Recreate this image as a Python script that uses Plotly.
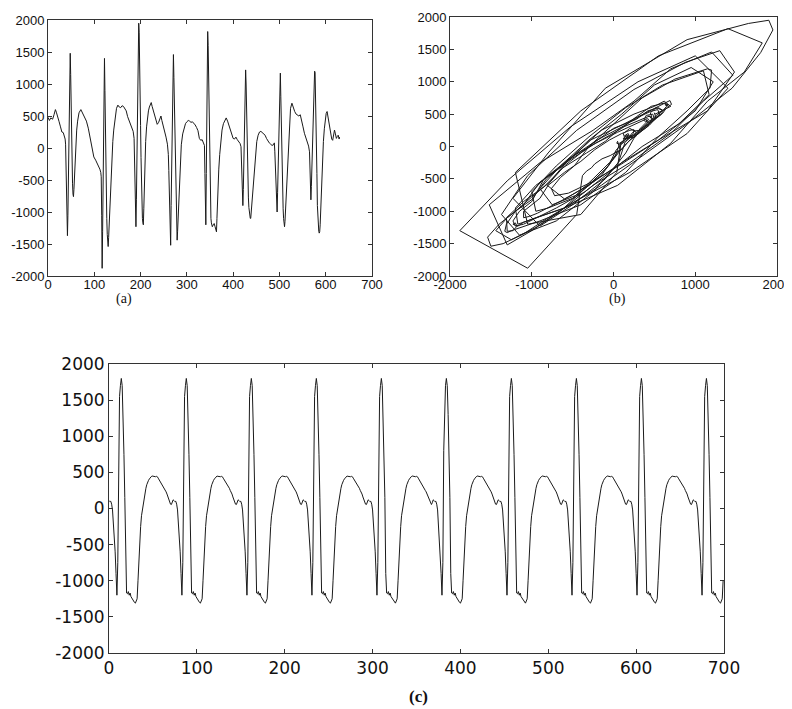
import numpy as np
import plotly.graph_objects as go

# ---------------- data ----------------
# (a) recorded signal: sample index and value (read from the picture;
#     every sample is listed through the sharp complexes)
a_t = [0, 3, 6, 10, 13, 16, 18, 21, 24, 27, 30, 33, 35, 37,
       38, 39, 40, 41, 42, 43, 44, 45, 46, 47, 48, 49, 50, 51, 52, 53, 54, 55, 56, 57, 58,
       60, 62, 64, 67, 71, 74, 77, 80, 83, 87, 90, 93, 96, 99, 103, 106, 109, 112, 114,
       115, 116, 117, 118, 119, 120, 121, 122, 123, 124, 125, 126, 127, 128, 129, 130, 131, 132, 133, 134,
       136, 138, 140, 142, 145, 148, 151, 154, 157, 160, 163, 166, 169, 172, 175, 178, 181, 184, 186, 187,
       188, 189, 190, 191, 192, 193, 194, 195, 196, 197, 198, 199, 200, 201, 202, 203, 204, 205, 206, 207, 208, 209,
       211, 213, 215, 217, 219, 221, 223, 225, 227, 230, 233, 236, 239, 242, 244, 246, 249, 252, 255, 258, 260,
       261, 262, 263, 264, 265, 266, 267, 268, 269, 270, 271, 272, 273, 274, 275, 276, 277, 278, 279, 280, 281, 282,
       284, 286, 288, 291, 294, 297, 300, 303, 306, 309, 312, 315, 318, 321, 324, 327, 330, 333, 336, 338,
       339, 340, 341, 342, 343, 344, 345, 346, 347, 348, 349, 350, 351, 352, 353, 355, 357, 359, 361, 363, 364,
       365, 366, 367, 369, 371, 373, 376, 379, 382, 385, 388, 391, 394, 397, 400, 403, 406, 409, 412, 415, 417,
       418, 419, 420, 421, 422, 423, 424, 425, 426, 427, 428, 429, 430, 431, 432, 433, 434, 435, 436, 437, 438,
       439, 440, 441, 443, 445, 447, 449, 451, 454, 457, 460, 463, 466, 469, 472, 475, 478, 481, 484, 487, 489, 490,
       491, 492, 493, 494, 495, 496, 497, 498, 499, 500, 501, 502, 503, 504, 505, 506, 507, 508, 509, 510, 511,
       512, 513, 514, 516, 518, 520, 522, 524, 527, 530, 533, 536, 539, 542, 545, 548, 551, 554, 557, 560, 563, 565,
       566, 567, 568, 569, 570, 571, 572, 573, 574, 575, 576, 577, 578, 579, 580, 581, 582, 583, 584, 585, 586, 587,
       588, 589, 590, 591, 593, 595, 597, 599, 601, 603, 605, 607, 609, 611, 613, 615, 617, 619, 621, 623, 625, 627,
       629, 630]
a_v = [480, 430, 470, 450, 520, 600, 560, 500, 410, 330, 250, 240, 200, 140,
       60, -250, -700, -1150, -1370, -1050, -450, 250, 880, 1300, 1480, 1150, 550, 100, -270, -550, -720, -760, -650, -480, -300,
       0, 280, 420, 550, 600, 560, 520, 470, 420, 310, 200, 100, -40, -140, -190, -230, -270, -330, -380,
       -450, -1050, -1880, -1300, -530, 300, 1000, 1400, 900, 200, -400, -800, -1100, -1350, -1500, -1540, -1400, -1200, -1000, -820,
       -500, -150, 100, 280, 460, 620, 670, 640, 630, 660, 650, 620, 580, 490, 430, 390, 330, 260, 150, -100,
       -500, -900, -1230, -800, -100, 900, 1650, 1900, 1950, 1800, 1450, 900, 350, -150, -600, -950, -1100, -1170, -1200, -950, -600, -280,
       100, 330, 480, 580, 640, 690, 710, 650, 600, 510, 440, 370, 400, 480, 500, 430, 350, 260, 170, 60, -100,
       -350, -650, -1000, -1300, -1520, -900, -250, 250, 700, 1200, 1460, 1100, 700, 200, -250, -600, -950, -1250, -1440, -1300, -1100, -900,
       -550, -220, 50, 220, 320, 380, 410, 430, 420, 400, 410, 390, 360, 320, 270, 150, 120, 130, 90, 40,
       -400, -1050, -1200, -400, 550, 1400, 1820, 1600, 1150, 700, 50, -600, -950, -1100, -1170, -1230, -1200, -1180, -1230, -1300, -1310,
       -1100, -850, -620, -330, -100, 80, 280, 380, 440, 470, 420, 350, 290, 230, 150, 140, 170, 130, 100, 70, 20,
       -150, -450, -750, -900, -650, -300, 100, 500, 950, 1220, 1000, 550, 100, -250, -550, -780, -930, -1030, -1080, -1100, -1100,
       -1000, -900, -800, -600, -400, -230, -50, 100, 200, 250, 260, 240, 220, 200, 150, 110, 80, 60, 40, 50, 80, -50,
       -250, -500, -800, -950, -1000, -700, -300, 150, 600, 950, 1100, 1170, 800, 350, 0, -350, -700, -950, -1100, -1200, -1230,
       -1150, -1000, -850, -500, -150, 250, 500, 620, 700, 620, 570, 530, 510, 500, 520, 440, 330, 230, 160, 90, 30, -60,
       -300, -600, -810, -600, -300, 0, 350, 750, 1040, 1150, 1200, 1180, 900, 550, 150, -400, -900, -1150, -1250, -1300, -1330, -1310,
       -1200, -1000, -780, -550, -200, 100, 300, 450, 540, 570, 480, 390, 300, 190, 140, 120, 200, 280, 220, 150, 180, 200,
       140, 170]

# (b) phase portrait: the signal of (a) against its next listed sample
b_delay = 1

# (c) reconstructed signal: one beat (74 samples, spike at index 37), repeated
beat_c = [440, 445, 440, 445, 440, 420, 400, 385, 370, 345,
          330, 310, 280, 250, 230, 200, 160, 120, 90, 60,
          55, 80, 120, 110, 95, 100, 60, -20, -200, -400,
          -600, -900, -1200, -750, 800, 1550, 1700, 1800, 1700, 1300,
          750, 150, -900, -1170, -1180, -1150, -1200, -1170, -1220, -1240,
          -1270, -1290, -1300, -1310, -1280, -1250, -1000, -700, -450, -250,
          -100, -20, 100, 170, 230, 280, 330, 370, 390, 410,
          430, 440, 450, 445]
c_first_spike = 14
c_length = 700

# tick values and labels
a_xticks = [0, 100, 200, 300, 400, 500, 600, 700]
yticks = [-2000, -1500, -1000, -500, 0, 500, 1000, 1500, 2000]
b_xticks = [-2000, -1000, 0, 1000, 2000]
a_xlabels = ["0", "100", "200", "300", "400", "500", "600", "700"]
ylabels = ["-2000", "-1500", "-1000", "-500", "0", "500", "1000", "1500", "2000"]
b_xlabels = ["-2000", "-1000", "0", "1000", "2000"]

# ---------------- derived ----------------
a_v_arr = np.array(a_v)
b_x = a_v_arr[:-b_delay]
b_y = a_v_arr[b_delay:]

period = len(beat_c)
spike_idx = 37
c_x = np.arange(c_length)
c_y = np.array(beat_c)[(c_x - c_first_spike + spike_idx) % period]

# ---------------- figure ----------------
# the page body has an 8 px margin; the figure fills the rest of the window
OFF = 8
W, H = 792 - OFF, 709 - OFF
LINE = "#1a1a1a"

fig = go.Figure()
fig.add_trace(go.Scatter(x=a_t, y=a_v, mode="lines", line=dict(color=LINE, width=1),
                         xaxis="x", yaxis="y", showlegend=False))
fig.add_trace(go.Scatter(x=b_x, y=b_y, mode="lines", line=dict(color=LINE, width=1),
                         xaxis="x2", yaxis="y2", showlegend=False))
fig.add_trace(go.Scatter(x=c_x, y=c_y, mode="lines", line=dict(color=LINE, width=1),
                         xaxis="x3", yaxis="y3", showlegend=False))


def dx(p0, p1):
    return [(p0 - OFF) / W, (p1 - OFF) / W]


def dy(top, bottom):
    return [1 - (bottom - OFF) / H, 1 - (top - OFF) / H]


def px(xp):
    return (xp - OFF) / W


def py(yp):
    return 1 - (yp - OFF) / H


small_font = dict(family="Liberation Sans, Arial, sans-serif", size=13, color="#111")
big_font = dict(family="DejaVu Sans, Verdana, sans-serif", size=17, color="#111")

common = dict(showgrid=False, zeroline=False, showline=True, linecolor="#333",
              linewidth=1, mirror="allticks", ticks="inside", ticklen=4,
              tickcolor="#333", automargin=False, ticklabeloverflow="allow")

fig.update_layout(
    width=W, height=H,
    margin=dict(l=0, r=0, t=0, b=0, autoexpand=False),
    paper_bgcolor="white", plot_bgcolor="white",
    xaxis=dict(domain=dx(48, 372), range=[0, 700], tickvals=a_xticks, ticktext=a_xlabels,
               tickfont=small_font, anchor="y", ticklabelstandoff=-4, **common),
    yaxis=dict(domain=dy(20, 276), range=[-2000, 2000], tickvals=yticks, ticktext=ylabels,
               tickfont=small_font, anchor="x", **common),
    xaxis2=dict(domain=dx(450, 777), range=[-2000, 2000], tickvals=b_xticks, ticktext=b_xlabels,
                tickfont=small_font, anchor="y2", ticklabelstandoff=-4, **common),
    yaxis2=dict(domain=dy(17, 276), range=[-2000, 2000], tickvals=yticks, ticktext=ylabels,
                tickfont=small_font, anchor="x2", **common),
    xaxis3=dict(domain=dx(109, 724), range=[0, 700], tickvals=a_xticks, ticktext=a_xlabels,
                tickfont=big_font, anchor="y3", **common),
    yaxis3=dict(domain=dy(364, 653), range=[-2000, 2000], tickvals=yticks, ticktext=ylabels,
                tickfont=big_font, anchor="x3", **common),
)

label_font = dict(family="Liberation Serif, Times New Roman, serif", size=14, color="#111")
fig.add_annotation(text="(a)", x=px(124), y=py(299), xref="paper", yref="paper",
                   showarrow=False, font=label_font, xanchor="center", yanchor="middle")
fig.add_annotation(text="(b)", x=px(617), y=py(299), xref="paper", yref="paper",
                   showarrow=False, font=label_font, xanchor="center", yanchor="middle")
fig.add_annotation(text="<b>(c)</b>", x=px(418), y=py(696), xref="paper", yref="paper",
                   showarrow=False,
                   font=dict(family="Liberation Serif, Times New Roman, serif", size=17, color="#111"),
                   xanchor="center", yanchor="middle")

fig.write_html("out.html")
